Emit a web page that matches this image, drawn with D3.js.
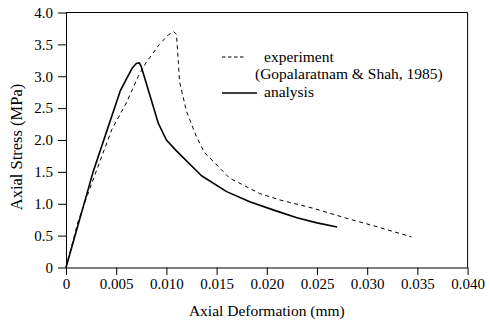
<!DOCTYPE html>
<html><head><meta charset="utf-8">
<script src="https://cdn.jsdelivr.net/npm/d3@7"></script>
<style>
html,body{margin:0;padding:0;background:#fff;}
svg text{font-family:"Liberation Serif","Times New Roman",serif;fill:#000;}
</style></head>
<body><svg id="c" width="490" height="325"></svg>
<script>
const xTicks = [0, 0.005, 0.010, 0.015, 0.020, 0.025, 0.030, 0.035, 0.040];
const xTickLabels = ["0", "0.005", "0.010", "0.015", "0.020", "0.025", "0.030", "0.035", "0.040"];
const yTicks = [0, 0.5, 1.0, 1.5, 2.0, 2.5, 3.0, 3.5, 4.0];
const yTickLabels = ["0", "0.5", "1.0", "1.5", "2.0", "2.5", "3.0", "3.5", "4.0"];

const experimentX = [0, 0.0012, 0.0024, 0.00455, 0.006, 0.0072, 0.008, 0.0093, 0.0102, 0.0107, 0.0110, 0.0112, 0.0113, 0.0120, 0.0130, 0.0138, 0.0147, 0.0163, 0.0172, 0.0193, 0.0213, 0.0246, 0.0280, 0.0313, 0.0344];
const experimentY = [0, 0.72, 1.25, 2.16, 2.58, 3.00, 3.22, 3.50, 3.65, 3.70, 3.66, 3.20, 2.92, 2.45, 2.05, 1.80, 1.66, 1.40, 1.33, 1.16, 1.06, 0.93, 0.77, 0.625, 0.48];

const analysisX = [0, 0.0027, 0.0054, 0.0066, 0.0070, 0.0073, 0.0075, 0.0092, 0.0100, 0.0110, 0.0135, 0.0160, 0.0183, 0.0207, 0.0230, 0.0250, 0.0270];
const analysisY = [0, 1.50, 2.77, 3.13, 3.20, 3.21, 3.15, 2.26, 2.00, 1.83, 1.44, 1.19, 1.03, 0.90, 0.78, 0.70, 0.635];

const legendLabels = ["experiment", "(Gopalaratnam & Shah, 1985)", "analysis"];
const xTitle = "Axial Deformation (mm)";
const yTitle = "Axial Stress (MPa)";

const svg = d3.select("#c");
const L = 66, R = 467.6, T = 12.5, B = 267.5;
const x = d3.scaleLinear().domain([0, 0.040]).range([L, R]);
const y = d3.scaleLinear().domain([0, 4.0]).range([B, T]);

// frame top/right
svg.append("line").attr("x1", L).attr("x2", R).attr("y1", T).attr("y2", T).attr("stroke", "#000").attr("stroke-width", 1);
svg.append("line").attr("x1", R).attr("x2", R).attr("y1", T).attr("y2", B).attr("stroke", "#000").attr("stroke-width", 1);

const xAxis = d3.axisBottom(x).tickValues(xTicks).tickFormat((d, i) => xTickLabels[i]).tickSize(7.5).tickPadding(3).tickSizeOuter(0);
const gx = svg.append("g").attr("transform", `translate(0,${B})`).call(xAxis);
const yAxis = d3.axisLeft(y).tickValues(yTicks).tickFormat((d, i) => yTickLabels[i]).tickSize(8).tickPadding(5).tickSizeOuter(0);
const gy = svg.append("g").attr("transform", `translate(${L},0)`).call(yAxis);
[gx, gy].forEach(g => {
  g.selectAll("path, line").attr("stroke", "#000").attr("stroke-width", 1);
  g.selectAll("text").attr("font-size", 15).attr("font-family", "Liberation Serif");
});

const line = d3.line().x(d => x(d[0])).y(d => y(d[1]));
const expData = experimentX.map((v, i) => [v, experimentY[i]]);
const anaData = analysisX.map((v, i) => [v, analysisY[i]]);

svg.append("path").datum(expData).attr("d", line).attr("fill", "none").attr("stroke", "#000").attr("stroke-width", 1).attr("stroke-dasharray", "4,3.5");
svg.append("path").datum(anaData).attr("d", line).attr("fill", "none").attr("stroke", "#000").attr("stroke-width", 1.6).attr("stroke-linejoin", "round");

// titles
svg.append("text").attr("x", (L + R) / 2).attr("y", 316).attr("text-anchor", "middle").attr("font-size", 15.5).text(xTitle);
svg.append("text").attr("transform", `translate(22,147) rotate(-90)`).attr("text-anchor", "middle").attr("font-size", 16.5).text(yTitle);

// legend
svg.append("line").attr("x1", 222).attr("x2", 244).attr("y1", 57).attr("y2", 57).attr("stroke", "#000").attr("stroke-width", 1).attr("stroke-dasharray", "3.5,2.5");
svg.append("line").attr("x1", 222).attr("x2", 257).attr("y1", 93).attr("y2", 93).attr("stroke", "#000").attr("stroke-width", 1.6);
svg.append("text").attr("x", 264).attr("y", 62).attr("font-size", 15.5).text(legendLabels[0]);
svg.append("text").attr("x", 255).attr("y", 79).attr("font-size", 15.5).text(legendLabels[1]);
svg.append("text").attr("x", 264).attr("y", 97).attr("font-size", 15.5).text(legendLabels[2]);
</script></body></html>
